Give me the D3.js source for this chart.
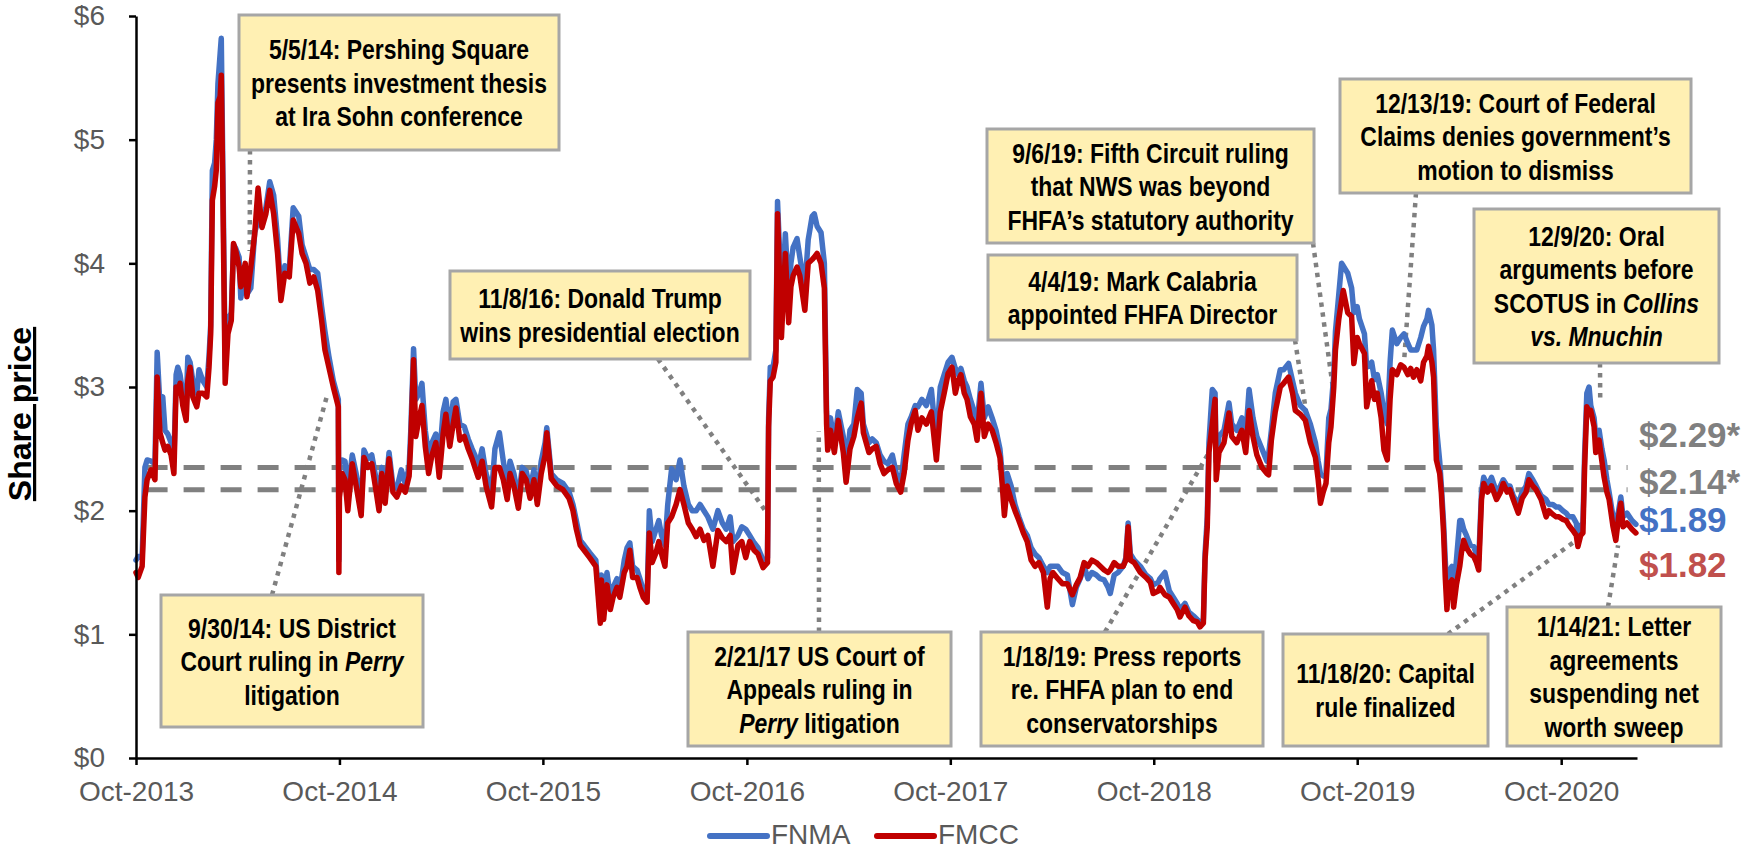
<!DOCTYPE html>
<html>
<head>
<meta charset="utf-8">
<script src="https://cdn.jsdelivr.net/npm/d3@7"></script>
<style>
  body { margin: 0; background: #fff; }
  svg { display: block; }
</style>
</head>
<body>
<svg id="chart"></svg>
<script>
const totalWidth = 1750;
const totalHeight = 851;

// daily-ish samples
const dates = [
  // 2013
  "2013-10-01","2013-10-05","2013-10-12","2013-10-17","2013-10-21","2013-10-28","2013-11-04","2013-11-08","2013-11-13","2013-11-18",
  "2013-11-22","2013-11-27","2013-12-03","2013-12-08","2013-12-12","2013-12-15","2013-12-19","2013-12-24","2013-12-30",
  // 2014
  "2014-01-02","2014-01-06","2014-01-11","2014-01-18","2014-01-22","2014-01-29",
  "2014-02-05","2014-02-09","2014-02-12","2014-02-15","2014-02-19","2014-02-22","2014-02-25",
  "2014-03-01","2014-03-03","2014-03-06","2014-03-10","2014-03-15","2014-03-21","2014-03-25","2014-03-29",
  "2014-04-04","2014-04-07","2014-04-15","2014-04-18","2014-04-25",
  "2014-05-02","2014-05-08","2014-05-15","2014-05-22","2014-05-29",
  "2014-06-05","2014-06-12","2014-06-18","2014-06-25",
  "2014-07-03","2014-07-10","2014-07-20","2014-07-26",
  "2014-08-02","2014-08-09","2014-08-16","2014-08-23","2014-08-30",
  "2014-09-05","2014-09-12","2014-09-20","2014-09-29","2014-09-30",
  "2014-10-01","2014-10-06","2014-10-11","2014-10-16","2014-10-24","2014-10-31",
  "2014-11-09","2014-11-14","2014-11-21","2014-11-28",
  "2014-12-06","2014-12-11","2014-12-16","2014-12-22","2014-12-29",
  // 2015
  "2015-01-05","2015-01-12","2015-01-20","2015-01-27",
  "2015-02-03","2015-02-06","2015-02-11","2015-02-15","2015-02-21","2015-02-26",
  "2015-03-04","2015-03-10","2015-03-16","2015-03-23","2015-03-29",
  "2015-04-05","2015-04-10","2015-04-17","2015-04-23","2015-04-28",
  "2015-05-05","2015-05-13","2015-05-20","2015-05-27",
  "2015-06-01","2015-06-07","2015-06-14","2015-06-21",
  "2015-07-01","2015-07-07","2015-07-15","2015-07-22","2015-07-29",
  "2015-08-03","2015-08-10","2015-08-18","2015-08-25",
  "2015-09-01","2015-09-08","2015-09-15","2015-09-21","2015-09-28",
  "2015-10-05","2015-10-08","2015-10-16","2015-10-26",
  "2015-11-06","2015-11-17","2015-11-24","2015-11-30",
  "2015-12-07","2015-12-14","2015-12-24",
  // 2016
  "2016-01-04","2016-01-12","2016-01-14","2016-01-18","2016-01-24","2016-01-30",
  "2016-02-04","2016-02-11","2016-02-16","2016-02-24","2016-02-29",
  "2016-03-05","2016-03-10","2016-03-18","2016-03-23","2016-03-29",
  "2016-04-05","2016-04-09","2016-04-14","2016-04-21","2016-04-26",
  "2016-05-01","2016-05-07","2016-05-12","2016-05-19","2016-05-27",
  "2016-06-03","2016-06-10","2016-06-18","2016-06-25",
  "2016-07-02","2016-07-09","2016-07-16","2016-07-23",
  "2016-08-01","2016-08-10","2016-08-18","2016-08-25",
  "2016-09-01","2016-09-06","2016-09-15","2016-09-22","2016-09-29",
  "2016-10-06","2016-10-14","2016-10-21","2016-10-30",
  "2016-11-07","2016-11-09","2016-11-12","2016-11-17","2016-11-22","2016-11-25","2016-11-30",
  "2016-12-02","2016-12-09","2016-12-15","2016-12-19","2016-12-23","2016-12-30",
  // 2017
  "2017-01-04","2017-01-13","2017-01-19","2017-01-26","2017-01-30",
  "2017-02-04","2017-02-11","2017-02-17","2017-02-21","2017-02-23","2017-02-28",
  "2017-03-07","2017-03-14","2017-03-23","2017-03-28",
  "2017-04-04","2017-04-11","2017-04-17","2017-04-24","2017-04-28",
  "2017-05-08","2017-05-14","2017-05-21","2017-05-28",
  "2017-06-04","2017-06-11","2017-06-19","2017-06-26",
  "2017-07-04","2017-07-10","2017-07-17","2017-07-23","2017-07-30",
  "2017-08-04","2017-08-11","2017-08-19","2017-08-28",
  "2017-09-06","2017-09-13","2017-09-20","2017-09-27",
  "2017-10-04","2017-10-10","2017-10-15","2017-10-20","2017-10-26","2017-10-31",
  "2017-11-06","2017-11-13","2017-11-18","2017-11-25",
  "2017-12-01","2017-12-08","2017-12-15","2017-12-22","2017-12-29",
  // 2018
  "2018-01-02","2018-01-06","2018-01-11","2018-01-18","2018-01-25",
  "2018-02-01","2018-02-09","2018-02-16","2018-02-23",
  "2018-03-02","2018-03-09","2018-03-17","2018-03-24","2018-03-29",
  "2018-04-03","2018-04-12","2018-04-20","2018-04-29",
  "2018-05-08","2018-05-15","2018-05-22","2018-05-29",
  "2018-06-05","2018-06-12","2018-06-20","2018-06-27",
  "2018-07-04","2018-07-11","2018-07-15","2018-07-22","2018-07-29",
  "2018-08-07","2018-08-12","2018-08-16","2018-08-20","2018-08-27",
  "2018-09-07","2018-09-17","2018-09-25","2018-09-30",
  "2018-10-09","2018-10-12","2018-10-21","2018-10-29",
  "2018-11-05","2018-11-12","2018-11-17","2018-11-26",
  "2018-12-03","2018-12-11","2018-12-18","2018-12-23","2018-12-29",
  // 2019
  "2019-01-01","2019-01-05","2019-01-08","2019-01-14","2019-01-19","2019-01-21","2019-01-26",
  "2019-02-04","2019-02-13","2019-02-18","2019-02-27",
  "2019-03-08","2019-03-15","2019-03-21","2019-03-28",
  "2019-04-04","2019-04-13","2019-04-22","2019-04-25","2019-04-30",
  "2019-05-07","2019-05-16","2019-05-22","2019-05-31",
  "2019-06-07","2019-06-12","2019-06-21","2019-06-30",
  "2019-07-09","2019-07-18","2019-07-23","2019-07-27",
  "2019-08-01","2019-08-06","2019-08-11","2019-08-15","2019-08-20","2019-08-23","2019-08-29",
  "2019-09-03","2019-09-06","2019-09-14","2019-09-21","2019-09-25",
  "2019-10-01","2019-10-05","2019-10-14","2019-10-18","2019-10-27",
  "2019-11-01","2019-11-06","2019-11-13","2019-11-18","2019-11-24","2019-11-29",
  "2019-12-03","2019-12-11","2019-12-18","2019-12-24","2019-12-31",
  // 2020
  "2020-01-05","2020-01-10","2020-01-16","2020-01-23","2020-01-28",
  "2020-02-03","2020-02-06","2020-02-12","2020-02-15","2020-02-20","2020-02-26","2020-02-29",
  "2020-03-04","2020-03-07","2020-03-10","2020-03-13","2020-03-19","2020-03-22","2020-03-27",
  "2020-04-02","2020-04-05","2020-04-09","2020-04-14","2020-04-21","2020-04-27",
  "2020-05-02","2020-05-06","2020-05-11","2020-05-15","2020-05-22","2020-05-29",
  "2020-06-07","2020-06-14","2020-06-19","2020-06-26",
  "2020-07-01","2020-07-07","2020-07-16","2020-07-23","2020-07-30",
  "2020-08-04","2020-08-11","2020-08-17","2020-08-26",
  "2020-09-04","2020-09-09","2020-09-16","2020-09-22","2020-09-27",
  "2020-10-04","2020-10-10","2020-10-15","2020-10-22","2020-10-28","2020-10-31",
  "2020-11-05","2020-11-09","2020-11-12","2020-11-16","2020-11-20","2020-11-23","2020-11-29",
  "2020-12-02","2020-12-08","2020-12-13","2020-12-17","2020-12-22","2020-12-26",
  // 2021
  "2021-01-02","2021-01-07","2021-01-12","2021-01-16","2021-01-20","2021-01-27",
  "2021-02-05","2021-02-12"
];

const fnma = [
  // 2013
  1.60,1.63,1.62,2.35,2.41,2.40,2.38,3.28,2.85,2.92,
  2.65,2.62,2.55,2.40,3.10,3.16,3.10,2.95,2.85,
  // 2014
  3.24,3.20,3.05,2.95,3.14,3.05,
  3.00,3.25,3.50,4.75,4.81,5.00,5.45,
  5.70,5.82,4.70,3.15,3.55,3.60,4.15,4.12,
  4.05,3.72,3.95,3.75,3.80,
  4.25,4.35,4.30,4.45,4.66,
  4.55,4.20,3.75,3.98,
  3.95,4.45,4.38,4.15,
  4.05,3.95,3.95,3.92,3.65,
  3.45,3.25,3.05,2.90,1.60,
  2.38,2.41,2.40,2.15,2.45,2.30,
  2.05,2.49,2.42,2.45,
  2.25,2.10,2.35,2.12,2.47,
  // 2015
  2.20,2.18,2.33,2.22,
  2.35,2.65,3.31,2.90,2.95,3.03,
  2.65,2.45,2.55,2.62,2.40,
  2.80,2.90,2.65,2.88,2.90,
  2.70,2.68,2.58,2.50,
  2.45,2.35,2.50,2.30,
  2.15,2.50,2.63,2.40,2.20,
  2.40,2.30,2.10,2.35,
  2.32,2.18,2.33,2.12,2.40,
  2.55,2.67,2.30,2.25,
  2.22,2.15,2.05,1.92,
  1.76,1.72,1.66,
  // 2016
  1.60,1.15,1.48,1.20,1.50,1.30,
  1.38,1.45,1.35,1.60,1.70,
  1.74,1.55,1.52,1.45,1.36,
  1.30,2.00,1.75,1.85,1.92,
  1.80,1.72,2.05,2.34,2.25,
  2.41,2.20,2.05,2.00,
  2.00,2.05,2.00,1.95,
  1.85,2.00,1.90,1.85,
  1.95,1.75,1.80,1.87,1.85,
  1.80,1.74,1.70,1.60,
  1.62,2.75,3.16,3.16,3.30,4.50,3.95,
  3.60,4.24,3.75,4.00,4.13,4.20,
  // 2017
  4.05,3.80,4.19,4.38,4.40,
  4.30,4.25,4.00,2.80,2.65,2.75,
  2.55,2.80,2.60,2.35,
  2.65,2.70,2.98,2.95,2.70,
  2.55,2.58,2.55,2.45,
  2.40,2.38,2.45,2.30,
  2.22,2.45,2.70,2.76,2.85,
  2.84,2.90,2.85,2.98,
  2.55,3.00,3.10,3.20,
  3.24,3.15,3.10,3.15,3.05,3.00,
  2.90,2.80,2.70,3.03,
  2.75,2.84,2.75,2.65,2.50,
  // 2018
  2.30,2.10,2.30,2.20,2.05,
  1.95,1.85,1.80,1.70,
  1.65,1.62,1.55,1.50,1.55,
  1.55,1.55,1.50,1.48,
  1.24,1.38,1.45,1.55,
  1.45,1.50,1.48,1.45,
  1.44,1.38,1.33,1.48,1.50,
  1.55,1.62,1.90,1.65,1.60,
  1.55,1.48,1.45,1.40,
  1.42,1.45,1.50,1.35,
  1.30,1.25,1.20,1.25,
  1.18,1.15,1.12,1.10,1.12,
  // 2019
  1.65,1.95,2.55,2.98,2.95,2.40,2.60,
  2.65,2.87,2.70,2.65,
  2.75,2.60,2.98,2.75,
  2.60,2.50,2.40,2.45,2.65,
  2.95,3.14,3.14,3.19,
  3.05,2.95,2.85,2.81,
  2.70,2.55,2.40,2.30,
  2.28,2.30,2.75,2.82,3.10,3.45,3.75,
  4.00,3.98,3.92,3.80,3.60,
  3.65,3.55,3.43,3.16,3.20,
  3.06,3.10,2.95,2.80,2.70,3.20,
  3.46,3.35,3.40,3.43,3.35,
  // 2020
  3.30,3.30,3.30,3.40,3.49,
  3.55,3.62,3.50,3.30,2.68,2.40,2.20,
  1.90,1.60,1.35,1.50,1.55,1.35,1.60,
  1.92,1.92,1.85,1.80,1.72,1.71,
  1.65,1.60,2.15,2.27,2.20,2.27,
  2.15,2.20,2.25,2.20,
  2.20,2.12,2.05,2.15,2.20,
  2.30,2.25,2.20,2.12,
  2.09,2.05,2.05,2.03,2.03,
  2.00,1.98,1.95,1.95,1.90,1.82,
  1.88,1.90,2.45,2.95,3.00,2.85,2.75,
  2.60,2.65,2.50,2.41,2.25,2.15,
  // 2021
  1.95,1.90,2.00,2.11,1.95,1.98,
  1.92,1.89
];

const fmcc = [
  // 2013
  1.50,1.46,1.55,2.11,2.25,2.33,2.25,3.08,2.63,2.55,
  2.49,2.52,2.45,2.30,3.00,2.95,3.03,2.85,2.73,
  // 2014
  3.05,3.16,2.92,2.84,2.95,2.95,
  2.92,3.16,3.43,4.51,4.62,4.75,5.30,
  5.35,5.52,4.51,3.03,3.43,3.54,4.16,4.10,
  3.97,3.81,4.00,3.73,3.97,
  4.24,4.61,4.29,4.40,4.59,
  4.40,4.08,3.70,3.92,
  3.89,4.35,4.24,4.08,
  4.00,3.84,3.89,3.78,3.54,
  3.30,3.16,3.00,2.84,1.50,
  2.11,2.30,2.25,2.00,2.38,2.20,
  1.96,2.43,2.35,2.38,
  2.15,2.00,2.30,2.06,2.42,
  // 2015
  2.15,2.11,2.20,2.15,
  2.28,2.55,3.22,2.60,2.75,2.85,
  2.52,2.30,2.45,2.55,2.27,
  2.62,2.78,2.52,2.70,2.83,
  2.57,2.60,2.50,2.42,
  2.35,2.27,2.40,2.20,
  2.03,2.35,2.35,2.25,2.09,
  2.30,2.20,2.02,2.30,
  2.25,2.10,2.25,2.05,2.30,
  2.45,2.63,2.26,2.20,
  2.17,2.10,2.00,1.85,
  1.72,1.68,1.62,
  // 2016
  1.55,1.09,1.44,1.12,1.40,1.20,
  1.30,1.38,1.30,1.50,1.55,
  1.68,1.46,1.46,1.38,1.30,
  1.26,1.82,1.58,1.66,1.75,
  1.65,1.55,1.90,1.95,2.05,
  2.17,2.05,1.90,1.85,
  1.79,1.85,1.76,1.80,
  1.55,1.84,1.78,1.75,
  1.80,1.50,1.72,1.75,1.62,
  1.75,1.68,1.65,1.54,
  1.58,2.68,3.05,3.08,3.20,4.40,3.70,
  3.40,4.08,3.52,3.81,3.90,3.97,
  // 2017
  3.90,3.62,4.00,4.03,4.05,
  4.08,4.00,3.80,2.70,2.49,2.65,
  2.47,2.73,2.47,2.23,
  2.50,2.60,2.75,2.87,2.63,
  2.47,2.50,2.52,2.38,
  2.30,2.33,2.35,2.22,
  2.15,2.30,2.57,2.71,2.81,
  2.65,2.75,2.70,2.80,
  2.41,2.80,2.95,3.11,
  3.16,2.95,3.05,3.10,2.95,2.90,
  2.76,2.70,2.57,2.95,
  2.60,2.70,2.65,2.55,2.43,
  // 2018
  2.22,1.96,2.20,2.09,2.00,
  1.92,1.82,1.75,1.60,
  1.55,1.58,1.50,1.22,1.45,
  1.50,1.45,1.41,1.41,
  1.32,1.40,1.46,1.58,
  1.55,1.60,1.58,1.55,
  1.52,1.50,1.52,1.58,1.55,
  1.55,1.60,1.87,1.60,1.58,
  1.50,1.46,1.42,1.33,
  1.35,1.38,1.32,1.30,
  1.25,1.20,1.14,1.22,
  1.15,1.11,1.10,1.06,1.09,
  // 2019
  1.60,1.87,2.47,2.70,2.90,2.25,2.47,
  2.55,2.79,2.60,2.55,
  2.65,2.47,2.81,2.60,
  2.45,2.35,2.30,2.29,2.57,
  2.80,3.00,3.03,3.08,
  2.95,2.81,2.78,2.73,
  2.55,2.43,2.25,2.06,
  2.15,2.22,2.55,2.68,3.00,3.30,3.55,
  3.70,3.78,3.60,3.57,3.19,
  3.40,3.35,3.27,2.84,3.05,
  2.90,2.95,2.75,2.49,2.41,2.90,
  3.14,3.10,3.18,3.16,3.10,
  // 2020
  3.15,3.08,3.14,3.05,3.20,
  3.25,3.33,3.20,3.08,2.41,2.30,2.14,
  1.82,1.46,1.20,1.40,1.44,1.22,1.40,
  1.55,1.66,1.76,1.70,1.65,1.63,
  1.58,1.52,2.09,2.22,2.15,2.20,
  2.09,2.15,2.22,2.15,
  2.17,2.09,1.98,2.10,2.15,
  2.25,2.20,2.17,2.09,
  1.95,2.00,1.97,1.95,1.95,
  1.93,1.92,1.88,1.84,1.80,1.71,
  1.80,1.82,2.35,2.84,2.80,2.81,2.68,
  2.47,2.57,2.40,2.27,2.15,2.09,
  // 2021
  1.87,1.76,1.95,2.06,1.87,1.90,
  1.85,1.82
];

const seriesNames = ["FNMA", "FMCC"];
const seriesColors = ["#4472C4", "#C00000"];

const yTicks = [0, 1, 2, 3, 4, 5, 6];
const xTicks = ["2013-10-01","2014-10-01","2015-10-01","2016-10-01","2017-10-01","2018-10-01","2019-10-01","2020-10-01"];
const xDomain = ["2013-10-01", "2021-02-14"];

// dashed reference levels (as drawn) and the value labels on the right
const refLevels = [2.35, 2.17];
const endLabels = ["$2.29*", "$2.14*", "$1.89", "$1.82"];
const endColors = ["#808080", "#808080", "#4472C4", "#C0504D"];

// annotation call-outs: box in px, text lines (_x_ = italic), leader line to a point on the chart
const notes = [
  { box: [239, 15, 559, 150], lines: ["5/5/14: Pershing Square", "presents investment thesis", "at Ira Sohn conference"], from: [250, 150], to: ["2014-04-23", 4.1] },
  { box: [161, 595, 423, 727], lines: ["9/30/14: US District", "Court ruling in _Perry_", "litigation"], from: [272, 595], to: ["2014-09-10", 2.95] },
  { box: [450, 271, 750, 359], lines: ["11/8/16: Donald Trump", "wins presidential election"], from: [658, 359], to: ["2016-11-03", 2.0] },
  { box: [688, 632, 951, 746], lines: ["2/21/17 US Court of", "Appeals ruling in", "_Perry_ litigation"], from: [819, 632], to: ["2017-02-07", 2.64] },
  { box: [981, 632, 1263, 746], lines: ["1/18/19: Press reports", "re. FHFA plan to end", "conservatorships"], from: [1105, 632], to: ["2019-01-08", 2.47] },
  { box: [1283, 634, 1488, 746], lines: ["11/18/20: Capital", "rule finalized"], from: [1448, 634], to: ["2020-11-09", 1.80] },
  { box: [1507, 607, 1721, 746], lines: ["1/14/21: Letter", "agreements", "suspending net", "worth sweep"], from: [1608, 607], to: ["2021-01-11", 1.72] },
  { box: [1474, 209, 1719, 363], lines: ["12/9/20: Oral", "arguments before", "SCOTUS in _Collins_", "_vs. Mnuchin_"], from: [1600, 363], to: ["2020-12-10", 2.9] },
  { box: [1340, 79, 1691, 193], lines: ["12/13/19: Court of Federal", "Claims denies government\u2019s", "motion to dismiss"], from: [1416, 193], to: ["2019-12-24", 3.2] },
  { box: [987, 129, 1314, 243], lines: ["9/6/19: Fifth Circuit ruling", "that NWS was beyond", "FHFA\u2019s statutory authority"], from: [1313, 243], to: ["2019-08-20", 2.94] },
  { box: [988, 255, 1297, 340], lines: ["4/4/19: Mark Calabria", "appointed FHFA Director"], from: [1295, 340], to: ["2019-07-01", 2.81] }
];

const fontFamily = "'Liberation Sans', Arial, Helvetica, sans-serif";
const parse = d3.timeParse("%Y-%m-%d");

const svg = d3.select("#chart")
  .attr("width", totalWidth)
  .attr("height", totalHeight)
  .style("font-family", fontFamily);

const x = d3.scaleTime().domain(xDomain.map(parse)).range([136, 1637]);
const y = d3.scaleLinear().domain([0, 6]).range([758, 16]);

// dashed reference lines
svg.selectAll(".ref")
  .data(refLevels)
  .enter()
  .append("line")
  .attr("x1", x(parse("2013-10-20")))
  .attr("x2", x(parse("2021-01-28")))
  .attr("y1", d => y(d))
  .attr("y2", d => y(d))
  .attr("stroke", "#808080")
  .attr("stroke-width", 5)
  .attr("stroke-dasharray", "21 16");

// leader lines
svg.selectAll(".leader")
  .data(notes)
  .enter()
  .append("line")
  .attr("x1", d => d.from[0])
  .attr("y1", d => d.from[1])
  .attr("x2", d => x(parse(d.to[0])))
  .attr("y2", d => y(d.to[1]))
  .attr("stroke", "#808080")
  .attr("stroke-width", 4.5)
  .attr("stroke-dasharray", "4.5 5.5");

// price lines
const parsedDates = dates.map(parse);
const line = d3.line()
  .x((d, i) => x(parsedDates[i]))
  .y(d => y(d));

[fnma, fmcc].forEach((values, k) => {
  svg.append("path")
    .datum(values)
    .attr("d", line)
    .attr("fill", "none")
    .attr("stroke", seriesColors[k])
    .attr("stroke-width", 5.5)
    .attr("stroke-linejoin", "round")
    .attr("stroke-linecap", "round");
});

// axes
const yAxis = svg.append("g")
  .attr("transform", "translate(136,0)")
  .call(d3.axisLeft(y).tickValues(yTicks).tickFormat(d => "$" + d).tickSize(7).tickSizeOuter(0).tickPadding(24));
const xAxis = svg.append("g")
  .attr("transform", "translate(0,758)")
  .call(d3.axisBottom(x).tickValues(xTicks.map(parse)).tickFormat(d3.timeFormat("%b-%Y")).tickSize(7).tickSizeOuter(0).tickPadding(16));

[yAxis, xAxis].forEach(ax => {
  ax.select(".domain").attr("stroke", "#000").attr("stroke-width", 2.5);
  ax.selectAll(".tick line").attr("stroke", "#000").attr("stroke-width", 2.5);
  ax.selectAll(".tick text")
    .attr("fill", "#595959")
    .attr("font-size", "28px")
    .attr("font-family", fontFamily);
});

// y-axis title
svg.append("text")
  .attr("transform", "translate(31,414) rotate(-90)")
  .attr("text-anchor", "middle")
  .attr("font-size", "32px")
  .attr("font-weight", "bold")
  .attr("text-decoration", "underline")
  .attr("fill", "#000")
  .text("Share price");

// annotation boxes
notes.forEach(a => {
  const [x0, y0, x1, y1] = a.box;
  svg.append("rect")
    .attr("x", x0)
    .attr("y", y0)
    .attr("width", x1 - x0)
    .attr("height", y1 - y0)
    .attr("fill", "#FFF0B3")
    .attr("stroke", "#A6A6A6")
    .attr("stroke-width", 3);
  const cx = (x0 + x1) / 2;
  const cy = (y0 + y1) / 2;
  const n = a.lines.length;
  a.lines.forEach((ln, i) => {
    const by = cy + (i - (n - 1) / 2) * 33.5 + 10;
    const t = svg.append("text")
      .attr("transform", `translate(${cx},${by}) scale(0.82,1)`)
      .attr("text-anchor", "middle")
      .attr("font-size", "28px")
      .attr("font-weight", "bold")
      .attr("fill", "#000");
    ln.split("_").forEach((s, j) => {
      if (s) t.append("tspan").attr("font-style", j % 2 ? "italic" : "normal").text(s);
    });
  });
});

// right-hand value labels
const endBaselines = [447, 494, 532, 577];
svg.selectAll(".endlabel")
  .data(endLabels)
  .enter()
  .append("text")
  .attr("x", 1639)
  .attr("y", (d, i) => endBaselines[i])
  .attr("font-size", "35px")
  .attr("font-weight", "bold")
  .attr("fill", (d, i) => endColors[i])
  .text(d => d);

// legend
const legendX = [710, 877];
seriesNames.forEach((name, k) => {
  svg.append("line")
    .attr("x1", legendX[k])
    .attr("x2", legendX[k] + 57)
    .attr("y1", 836)
    .attr("y2", 836)
    .attr("stroke", seriesColors[k])
    .attr("stroke-width", 6)
    .attr("stroke-linecap", "round");
  svg.append("text")
    .attr("x", legendX[k] + 61)
    .attr("y", 844)
    .attr("font-size", "28px")
    .attr("fill", "#595959")
    .text(name);
});
</script>
</body>
</html>
